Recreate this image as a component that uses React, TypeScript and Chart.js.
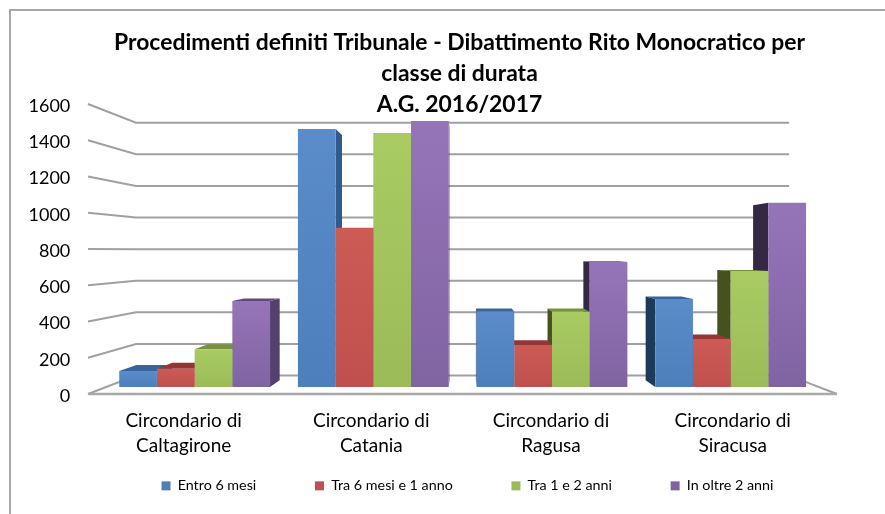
import React, { useEffect, useRef } from "react";
import { Chart, registerables } from "chart.js";

Chart.register(...registerables);

const titleLines = [
  "Procedimenti definiti Tribunale - Dibattimento Rito Monocratico per",
  "classe di durata",
  "A.G. 2016/2017",
];
const categories = [
  ["Circondario di", "Caltagirone"],
  ["Circondario di", "Catania"],
  ["Circondario di", "Ragusa"],
  ["Circondario di", "Siracusa"],
];
const seriesNames = ["Entro 6 mesi", "Tra 6 mesi e 1 anno", "Tra 1 e 2 anni", "In oltre 2 anni"];
const entro6Mesi = [93, 1500, 438, 512];
const tra6Mesi1Anno = [106, 926, 244, 279];
const tra1e2Anni = [220, 1476, 438, 674];
const oltre2Anni = [500, 1546, 727, 1071];
const seriesValues = [entro6Mesi, tra6Mesi1Anno, tra1e2Anni, oltre2Anni];

const palette = [
  { solid: "#4f81bd", light: "#5a8ccb", dark: "#4d7fbb", right: "#2f5a8c", left: "#1c3a5a", top: "#37659b" },
  { solid: "#c0504d", light: "#cc5b56", dark: "#c0504d", right: "#8e3331", left: "#5e2220", top: "#963634" },
  { solid: "#9bbb59", light: "#a9cb62", dark: "#9bbb59", right: "#6f8a3a", left: "#45511f", top: "#76923c" },
  { solid: "#8064a2", light: "#9674b8", dark: "#8064a2", right: "#54406f", left: "#352845", top: "#5f4b7a" },
];

const FONT = "Lato";
const VP = { x: 463, y: 250 };
const BAR_DEPTH = 0.05;
const WALL_DEPTH = 0.128;
const FRONT_LEFT = 88;
const FRONT_RIGHT = 837;
const LABEL_SHIFT = [-11, -2, -1, 2];
const Y_LABEL_SHIFT = 2;
const LEGEND_SHIFT = 8;
const LEGEND_DROP = 4;

const back = (x: number, y: number, k: number) => [x + (VP.x - x) * k, y + (VP.y - y) * k];

const quad = (ctx: any, pts: number[][], fill: string) => {
  ctx.beginPath();
  pts.forEach((p, i) => (i ? ctx.lineTo(p[0], p[1]) : ctx.moveTo(p[0], p[1])));
  ctx.closePath();
  ctx.fillStyle = fill;
  ctx.fill();
};

const frame3d = {
  id: "frame3d",
  afterLayout(chart: any) {
    chart.legend.left += LEGEND_SHIFT;
    chart.legend.right += LEGEND_SHIFT;
    chart.legend.top += LEGEND_DROP;
    chart.legend.bottom += LEGEND_DROP;
    // tick labels are clipped to their scale box: widen the boxes to the room the labels use
    chart.scales.x.bottom += 60;
    chart.scales.y.left = 0;
  },
  beforeDatasetsDraw(chart: any) {
    const { ctx } = chart;
    const yScale = chart.scales.y;
    ctx.save();
    // page frame
    ctx.strokeStyle = "#a8a8a8";
    ctx.lineWidth = 2;
    ctx.beginPath();
    ctx.moveTo(10, 514);
    ctx.lineTo(10, 10);
    ctx.lineTo(885, 10);
    ctx.stroke();
    // walls
    ctx.strokeStyle = "#a0a0a0";
    ctx.lineWidth = 2;
    yScale.ticks.forEach((t: any) => {
      const y = yScale.getPixelForValue(t.value);
      const [bx, by] = back(FRONT_LEFT, y, WALL_DEPTH);
      const [ex] = back(FRONT_RIGHT, y, WALL_DEPTH);
      ctx.beginPath();
      ctx.moveTo(FRONT_LEFT, y);
      ctx.lineTo(bx, by);
      ctx.lineTo(ex, by);
      ctx.stroke();
    });
    // floor
    const y0 = yScale.getPixelForValue(0);
    const [rx, ry] = back(FRONT_RIGHT, y0, WALL_DEPTH);
    ctx.beginPath();
    ctx.moveTo(rx, ry);
    ctx.lineTo(FRONT_RIGHT, y0);
    ctx.stroke();
    ctx.strokeStyle = "#a8a8a8";
    ctx.lineWidth = 2.5;
    ctx.beginPath();
    ctx.moveTo(FRONT_LEFT, y0);
    ctx.lineTo(FRONT_RIGHT, y0);
    ctx.stroke();

    // bar depth faces, farthest from the vanishing point first
    const faces: any[] = [];
    chart.data.datasets.forEach((_: any, ds: number) => {
      chart.getDatasetMeta(ds).data.forEach((b: any) => {
        faces.push({ b, c: palette[ds] });
      });
    });
    faces.sort((p, q) => Math.abs(q.b.x - VP.x) - Math.abs(p.b.x - VP.x));
    faces.forEach(({ b, c }) => {
      const x0 = b.x - b.width / 2;
      const x1 = b.x + b.width / 2;
      const k = BAR_DEPTH;
      if (b.y > VP.y) {
        quad(ctx, [[x0, b.y], [x1, b.y], back(x1, b.y, k), back(x0, b.y, k)], c.top);
      }
      if (x1 < VP.x) {
        quad(ctx, [[x1, b.y], [x1, b.base], back(x1, b.base, k), back(x1, b.y, k)], c.right);
      } else if (x0 > VP.x) {
        quad(ctx, [[x0, b.y], [x0, b.base], back(x0, b.base, k), back(x0, b.y, k)], c.left);
      }
    });
    ctx.restore();
  },
};

export default function App() {
  const ref = useRef<HTMLCanvasElement>(null);
  useEffect(() => {
    const chart = new Chart(ref.current as HTMLCanvasElement, {
      type: "bar",
      plugins: [frame3d],
      data: {
        labels: categories,
        datasets: seriesNames.map((label, i) => ({
          label,
          data: seriesValues[i],
          yAxisID: "yBar",
          borderWidth: 0,
          categoryPercentage: 0.844,
          barPercentage: 1,
          clip: false,
          backgroundColor: (c: any) => {
            const p = palette[i];
            if (c.dataIndex === undefined || c.type !== "data") return p.solid;
            const s = c.chart.scales.yBar;
            const top = s.getPixelForValue(seriesValues[i][c.dataIndex]);
            const bottom = s.getPixelForValue(0);
            if (!Number.isFinite(top) || !Number.isFinite(bottom)) return p.solid;
            const g = c.chart.ctx.createLinearGradient(0, top, 0, bottom);
            g.addColorStop(0, p.light);
            g.addColorStop(1, p.dark);
            return g;
          },
        })),
      } as any,
      options: {
        responsive: false,
        animation: false,
        layout: { padding: { left: 34, right: 0, top: 0, bottom: 15 } },
        plugins: {
          tooltip: { enabled: false },
          title: {
            display: true,
            text: titleLines,
            color: "#000",
            font: { family: FONT, size: 22.9, weight: "bold", lineHeight: "31px" },
            padding: { top: 27.5, bottom: -16.5 },
          },
          legend: {
            position: "bottom",
            labels: {
              boxWidth: 9,
              boxHeight: 9,
              padding: 58.7,
              color: "#000",
              font: { family: FONT, size: 14.3 },
            },
          },
        },
        scales: {
          x: {
            grid: { display: false, drawTicks: false },
            border: { display: false },
            afterFit: (s: any) => {
              s.height = 22;
            },
            afterBuildTicks: (s: any) => {
              const proto = Object.getPrototypeOf(s);
              s.getPixelForTick = function (i: number) {
                return proto.getPixelForTick.call(this, i) + LABEL_SHIFT[i];
              };
            },
            ticks: {
              autoSkip: false,
              maxRotation: 0,
              padding: 14.5,
              color: "#000",
              font: { family: FONT, size: 19, lineHeight: "25px" },
            },
          },
          y: {
            position: "left",
            min: 0,
            max: 1600,
            grid: { display: false, drawTicks: false },
            border: { display: false },
            afterFit: (s: any) => {
              s.width = 71.3;
            },
            afterBuildTicks: (s: any) => {
              const proto = Object.getPrototypeOf(s);
              s.getPixelForTick = function (i: number) {
                return proto.getPixelForTick.call(this, i) + Y_LABEL_SHIFT;
              };
            },
            ticks: {
              stepSize: 200,
              padding: 35,
              color: "#000",
              font: { family: FONT, size: 18 },
              callback: (v: any) => String(v),
            },
          },
          yBar: {
            position: "right",
            min: -40.7,
            max: 1645.3,
            grid: { display: false, drawTicks: false },
            border: { display: false },
            ticks: { display: false },
            afterFit: (s: any) => {
              s.width = 65;
            },
          },
        },
      } as any,
    });
    return () => chart.destroy();
  }, []);
  return (
    <div style={{ position: "absolute", left: 0, top: 0, width: 885, height: 514 }}>
      <canvas ref={ref} width={885} height={514} style={{ display: "block" }} />
    </div>
  );
}
